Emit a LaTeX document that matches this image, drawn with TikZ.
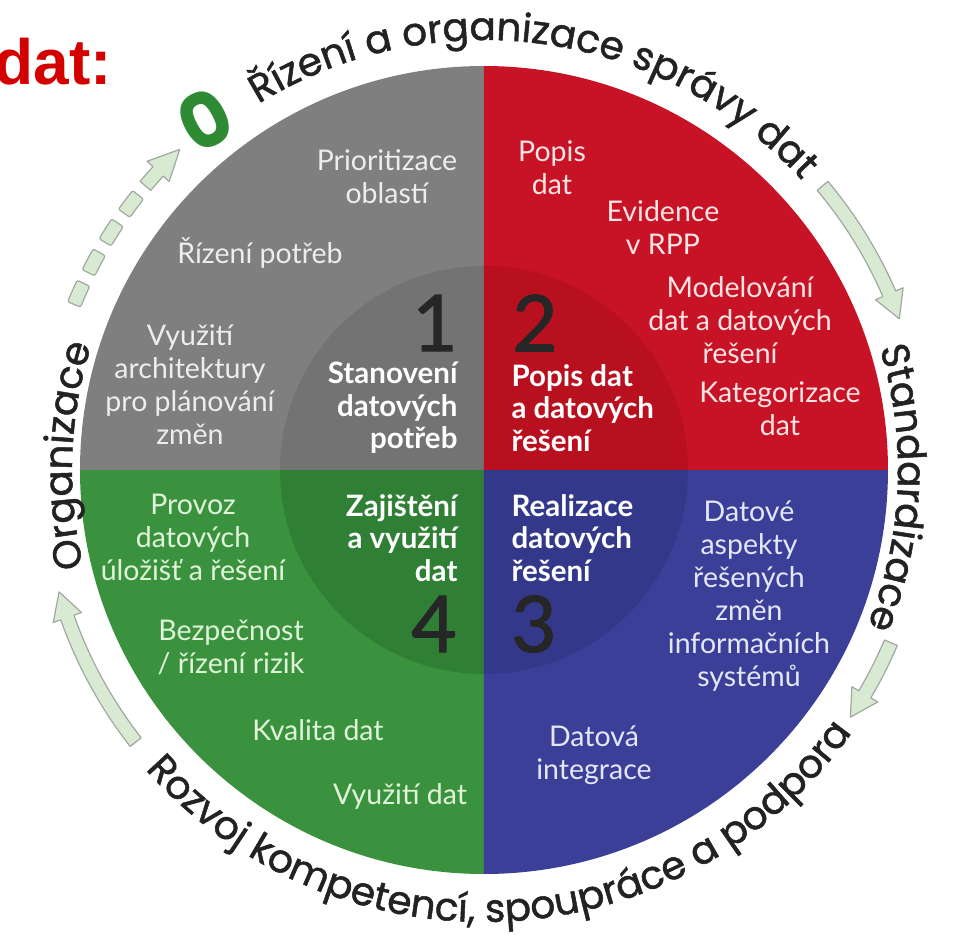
\documentclass[tikz,border=0pt]{standalone}
\usepackage{fontspec}
\setmainfont{Lato}
\newfontfamily\ringfont[FakeBold=1.3]{Poppins}
\newfontfamily\zerofont{Poppins}
\newfontfamily\numfont[FakeBold=1.6]{Lato}
\newfontfamily\titlefont{Liberation Sans}
\usetikzlibrary{decorations.text}

\definecolor{greyout}{HTML}{7F7F7F}
\definecolor{greyin}{HTML}{737373}
\definecolor{redout}{HTML}{C81226}
\definecolor{redin}{HTML}{B8101F}
\definecolor{blueout}{HTML}{3B3F98}
\definecolor{bluein}{HTML}{34388A}
\definecolor{greenout}{HTML}{3A923E}
\definecolor{greenin}{HTML}{2F8035}
\definecolor{greytext}{HTML}{EDEDED}
\definecolor{redtext}{HTML}{FBE4E4}
\definecolor{bluetext}{HTML}{E4E7F8}
\definecolor{greentext}{HTML}{E0F4DA}
\definecolor{numcol}{HTML}{262626}
\definecolor{ringcol}{HTML}{222222}
\definecolor{zerocol}{HTML}{2E8B34}
\definecolor{titlered}{HTML}{D40000}
\definecolor{arrowfill}{HTML}{D9EAD3}
\definecolor{arrowline}{HTML}{A0A8A0}

\tikzset{
  item/.style={text=#1, align=center, font=\fontsize{28.5}{33}\selectfont},
  head/.style={text=white, font=\bfseries\fontsize{29.5}{32.5}\selectfont},
  num/.style={text=numcol, font=\numfont\fontsize{78}{78}\selectfont},
  ringtext/.style={decorate, decoration={text along path, text align=center,
      text color=ringcol, text={|\ringfont\fontsize{39}{39}\selectfont|#1}}},
  arrowshape/.style={draw=arrowline, fill=arrowfill, line width=1.2, line join=round}
}

\begin{document}
\begin{tikzpicture}[x=1pt, y=1pt]
  \useasboundingbox (-484,-465) rectangle (470,470);

  % ctvrtiny kruhu
  \fill[greyout]  (0,0) -- (90:404)  arc[start angle=90,  end angle=180, radius=404] -- cycle;
  \fill[redout]   (0,0) -- (0:404)   arc[start angle=0,   end angle=90,  radius=404] -- cycle;
  \fill[greenout] (0,0) -- (180:404) arc[start angle=180, end angle=270, radius=404] -- cycle;
  \fill[blueout]  (0,0) -- (270:404) arc[start angle=270, end angle=360, radius=404] -- cycle;

  % vnitrni kruh
  \fill[greyin]  (0,0) -- (90:204)  arc[start angle=90,  end angle=180, radius=204] -- cycle;
  \fill[redin]   (0,0) -- (0:204)   arc[start angle=0,   end angle=90,  radius=204] -- cycle;
  \fill[greenin] (0,0) -- (180:204) arc[start angle=180, end angle=270, radius=204] -- cycle;
  \fill[bluein]  (0,0) -- (270:204) arc[start angle=270, end angle=360, radius=204] -- cycle;

  % cisla
  \node[num] (n1) at (-49,147) {1};
  \node[num] (n2) at (51,147) {2};
  \node[num] (n3) at (50,-154) {3};
  \node[num] (n4) at (-50,-154) {4};

  % nazvy oblasti
  \node[head, align=right, anchor=east] (h1) at (-23,62) {Stanovení\\datových\\potřeb};
  \node[head, align=left, anchor=west] (h2) at (24,62) {Popis dat\\a datových\\řešení};
  \node[head, align=left, anchor=west] (h3) at (24,-68) {Realizace\\datových\\řešení};
  \node[head, align=right, anchor=east] (h4) at (-23,-68) {Zajištění\\a využití\\dat};

  % 1 - seda
  \node[item=greytext] (prio) at (-97,293) {Prioritizace\\oblastí};
  \node[item=greytext] (rizp) at (-224,217) {Řízení potřeb};
  \node[item=greytext] (arch) at (-294,85) {Využití\\architektury\\pro plánování\\změn};

  % 2 - cervena
  \node[item=redtext] (popis) at (68,302) {Popis\\dat};
  \node[item=redtext] (evid) at (179,242) {Evidence\\v RPP};
  \node[item=redtext] (model) at (256,150) {Modelování\\dat a datových\\řešení};
  \node[item=redtext] (kateg) at (296,61) {Kategorizace\\dat};

  % 3 - modra
  \node[item=bluetext] (aspekt) at (265,-126) {Datové\\aspekty\\řešených\\změn\\informačních\\systémů};
  \node[item=bluetext] (integ) at (110,-285) {Datová\\integrace};

  % 4 - zelena
  \node[item=greentext] (provoz) at (-291,-67) {Provoz\\datových\\úložišť a řešení};
  \node[item=greentext] (bezp) at (-253,-177) {Bezpečnost\\/ řízení rizik};
  \node[item=greentext] (kval) at (-166,-260) {Kvalita dat};
  \node[item=greentext] (vyuz) at (-84,-326) {Využití dat};

  % texty po obvodu
  \path[ringtext={Řízení a organizace správy dat}] (124:430) arc[start angle=124, end angle=40, radius=430];
  \path[ringtext={Standardizace}] (18:414) arc[start angle=18, end angle=-23, radius=414];
  \path[ringtext={Rozvoj kompetencí, spoupráce a podpora}] (220:452) arc[start angle=220, end angle=326, radius=452];
  \path[ringtext={Organizace}] (202:412) arc[start angle=202, end angle=154, radius=412];
  \node[rotate=28, text=zerocol, font=\zerofont\bfseries\fontsize{76}{76}\selectfont] (zero) at (-279,350) {0};

  % sipky
  \foreach \a/\c/\b in {40/23.5/20, -23/-30.5/-34, 218/199.5/196, 140/137.5/133.5}
    \filldraw[arrowshape] (\a:449) arc[start angle=\a, end angle=\c, radius=449]
      -- (\c:457) -- (\b:442) -- (\c:427) -- (\c:435)
      arc[start angle=\c, end angle=\a, radius=435] -- cycle;
  \foreach \a/\b in {158/155, 153.5/150.5, 149/146, 144.5/141.5}
    \filldraw[arrowshape, rounded corners=2] (\a:449) arc[start angle=\a, end angle=\b, radius=449]
      -- (\b:435) arc[start angle=\b, end angle=\a, radius=435] -- cycle;

  % nadpis
  \node[anchor=base west, text=titlered, font=\titlefont\bfseries\fontsize{64}{64}\selectfont] (title) at (-493,385) {dat:};
\end{tikzpicture}
\end{document}
